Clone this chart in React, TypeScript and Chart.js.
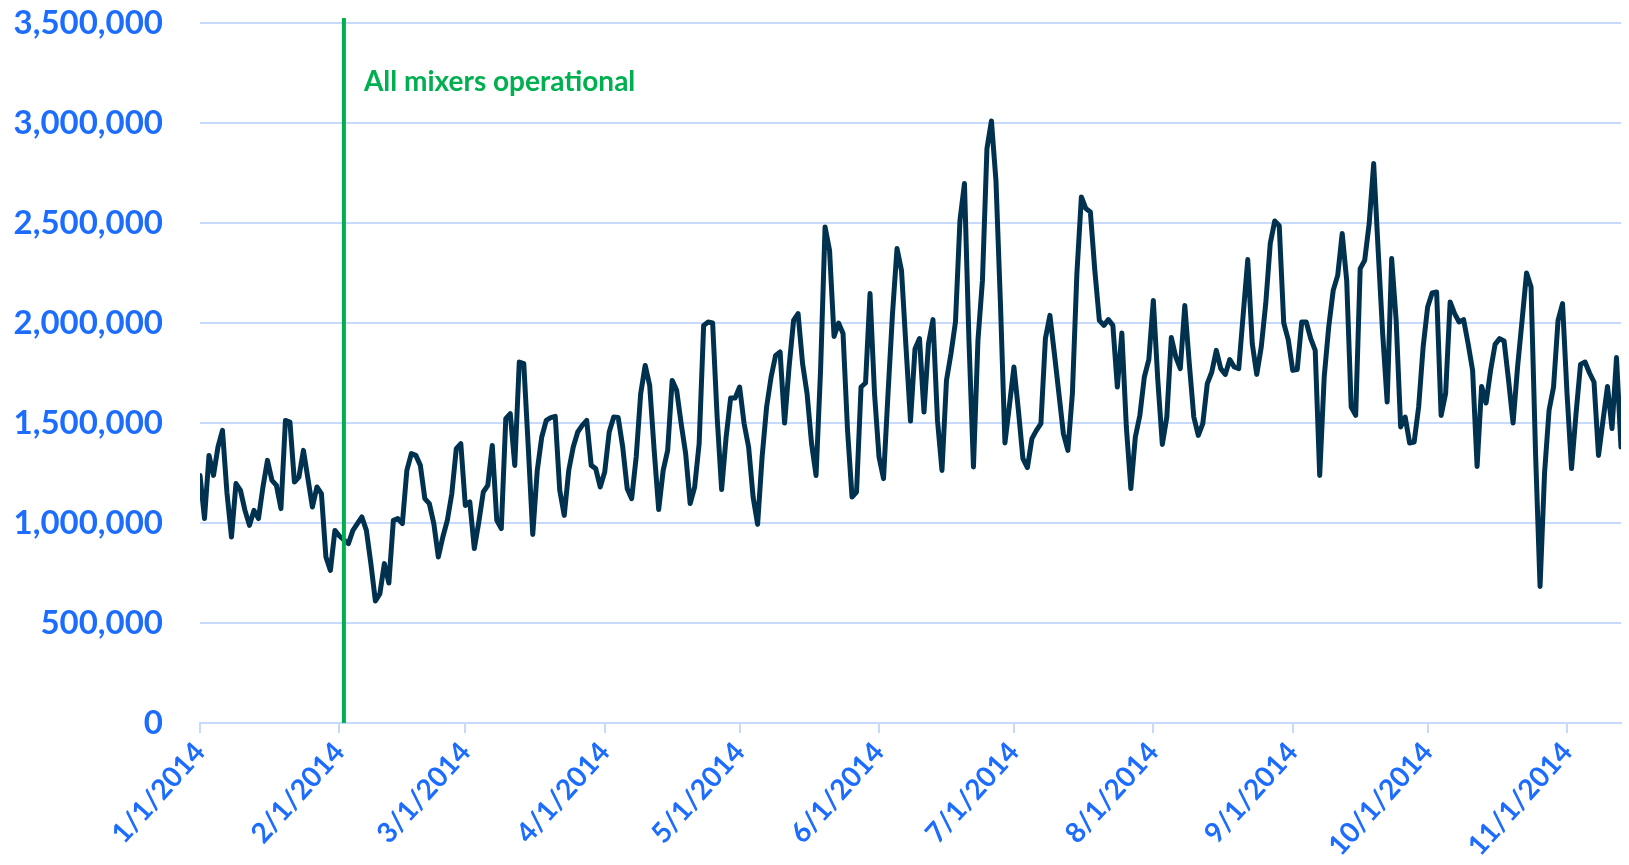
import React, { useEffect, useRef } from "react";
import { Chart, registerables } from "chart.js";

Chart.register(...registerables);

// Daily values starting 1/1/2014 (day index 0)
const startLabel = "1/1/2014";
const dailyValues: number[] = [
  1238000, 1022000, 1338000, 1238000, 1380000, 1463000, 1150000, 930000, 1197000, 1163000,
  1063000, 988000, 1063000, 1022000, 1180000, 1313000, 1213000, 1188000, 1072000, 1513000,
  1505000, 1205000, 1230000, 1363000, 1222000, 1080000, 1180000, 1147000, 830000, 763000,
  963000, 935000, 915000, 897000, 963000, 997000, 1030000, 963000, 797000, 610000,
  647000, 797000, 700000, 1013000, 1022000, 997000, 1263000, 1347000, 1338000, 1288000,
  1122000, 1097000, 997000, 830000, 930000, 1013000, 1147000, 1372000, 1397000, 1088000,
  1105000, 872000, 1005000, 1155000, 1188000, 1388000, 1013000, 972000, 1522000, 1547000,
  1288000, 1805000, 1797000, 1380000, 943000, 1263000, 1430000, 1513000, 1527000, 1533000,
  1163000, 1038000, 1263000, 1380000, 1455000, 1488000, 1513000, 1288000, 1272000, 1180000,
  1255000, 1455000, 1530000, 1527000, 1380000, 1172000, 1122000, 1330000, 1647000, 1788000,
  1688000, 1363000, 1067000, 1263000, 1363000, 1713000, 1663000, 1497000, 1347000, 1097000,
  1180000, 1397000, 1988000, 2005000, 2000000, 1530000, 1167000, 1430000, 1625000, 1625000,
  1680000, 1497000, 1380000, 1130000, 993000, 1330000, 1580000, 1730000, 1838000, 1855000,
  1500000, 1780000, 2013000, 2047000, 1797000, 1647000, 1397000, 1238000, 1763000, 2480000,
  2363000, 1933000, 2000000, 1947000, 1463000, 1130000, 1155000, 1680000, 1700000, 2147000,
  1647000, 1330000, 1222000, 1647000, 2047000, 2372000, 2263000, 1880000, 1510000, 1870000,
  1922000, 1555000, 1897000, 2017000, 1513000, 1263000, 1713000, 1847000, 2005000, 2513000,
  2697000, 1913000, 1280000, 1913000, 2213000, 2872000, 3010000, 2713000, 2100000, 1400000,
  1588000, 1780000, 1563000, 1322000, 1277000, 1422000, 1463000, 1497000, 1922000, 2038000,
  1847000, 1647000, 1447000, 1363000, 1647000, 2247000, 2630000, 2572000, 2555000, 2260000,
  2013000, 1988000, 2017000, 1988000, 1680000, 1950000, 1480000, 1172000, 1430000, 1538000,
  1730000, 1817000, 2113000, 1713000, 1393000, 1530000, 1927000, 1830000, 1772000, 2088000,
  1797000, 1530000, 1438000, 1497000, 1697000, 1755000, 1863000, 1772000, 1743000, 1817000,
  1780000, 1772000, 2047000, 2317000, 1897000, 1743000, 1880000, 2097000, 2397000, 2510000,
  2486000, 2000000, 1917000, 1763000, 1767000, 2005000, 2005000, 1922000, 1863000, 1238000,
  1730000, 1980000, 2163000, 2238000, 2447000, 2213000, 1580000, 1538000, 2272000, 2313000,
  2497000, 2797000, 2363000, 1947000, 1605000, 2322000, 2013000, 1480000, 1530000, 1400000,
  1405000, 1580000, 1880000, 2080000, 2150000, 2155000, 1538000, 1647000, 2105000, 2047000,
  2005000, 2017000, 1897000, 1763000, 1283000, 1683000, 1600000, 1763000, 1893000, 1922000,
  1910000, 1713000, 1500000, 1780000, 2013000, 2250000, 2180000, 1347000, 683000, 1250000,
  1563000, 1680000, 2013000, 2097000, 1647000, 1272000, 1547000, 1793000, 1805000, 1750000,
  1705000, 1338000, 1513000, 1683000, 1472000, 1827000, 1380000,
];

// Month-start tick positions (day index) and their labels
const monthStartDays: number[] = [0, 31, 59, 90, 120, 151, 181, 212, 243, 273, 304];
const monthTickLabels: string[] = [
  "1/1/2014", "2/1/2014", "3/1/2014", "4/1/2014", "5/1/2014", "6/1/2014",
  "7/1/2014", "8/1/2014", "9/1/2014", "10/1/2014", "11/1/2014",
];

// Annotation
const markerDay = 32;
const markerText = "All mixers operational";

const yMax = 3500000;
const yStep = 500000;

const BLUE = "#1c6cff";
const NAVY = "#00324f";
const GRID = "#c8dafc";
const GREEN = "#00b050";

export default function App() {
  const canvasRef = useRef<HTMLCanvasElement | null>(null);

  useEffect(() => {
    document.body.style.margin = "0";
    let chart: Chart | null = null;
    let cancelled = false;

    const markerPlugin = {
      id: "markerLine",
      afterDatasetsDraw(c: any) {
        const xs = c.scales.x;
        const area = c.chartArea;
        const x = xs.getPixelForValue(markerDay);
        const ctx = c.ctx;
        ctx.save();
        ctx.strokeStyle = GREEN;
        ctx.lineWidth = 4;
        ctx.beginPath();
        ctx.moveTo(x, area.top - 5);
        ctx.lineTo(x, area.bottom);
        ctx.stroke();
        ctx.fillStyle = GREEN;
        ctx.font = "bold 28px Lato";
        ctx.textAlign = "left";
        ctx.textBaseline = "alphabetic";
        ctx.fillText(markerText, x + 20, area.top + 68);
        ctx.restore();
      },
    };

    const build = () => {
      if (cancelled || !canvasRef.current) return;
      const points = dailyValues.map((v, i) => ({ x: i, y: v }));
      chart = new Chart(canvasRef.current, {
        type: "line",
        data: {
          datasets: [
            {
              label: startLabel,
              data: points,
              borderColor: NAVY,
              borderWidth: 5,
              pointRadius: 0,
              tension: 0,
              fill: false,
              borderJoinStyle: "round",
              borderCapStyle: "round",
            },
          ],
        },
        options: {
          animation: false,
          responsive: false,
          layout: { padding: { top: 23, right: 8, left: 0, bottom: 0 } },
          plugins: { legend: { display: false }, tooltip: { enabled: false } },
          scales: {
            x: {
              type: "linear",
              min: 0,
              max: dailyValues.length - 1,
              afterBuildTicks: (s: any) => {
                s.ticks = monthStartDays.map((v) => ({ value: v }));
              },
              afterFit: (s: any) => {
                s.height = 142;
              },
              ticks: {
                autoSkip: false,
                minRotation: 48,
                maxRotation: 48,
                color: BLUE,
                font: { family: "Lato", size: 28, weight: "bold" },
                padding: 3,
                labelOffset: 0,
                callback: (v: any) => {
                  const idx = monthStartDays.indexOf(Number(v));
                  return idx >= 0 ? monthTickLabels[idx] : "";
                },
              },
              grid: {
                drawOnChartArea: false,
                drawTicks: true,
                tickLength: 10,
                color: GRID,
                lineWidth: 2,
              },
              border: { display: true, color: GRID, width: 2 },
            },
            y: {
              min: 0,
              max: yMax,
              afterFit: (s: any) => {
                s.width = 200;
                s.paddingTop = 0;
                s.paddingBottom = 0;
              },
              ticks: {
                stepSize: yStep,
                color: BLUE,
                font: { family: "Lato", size: 33, weight: "bold" },
                padding: 37,
                callback: (v: any) => Number(v).toLocaleString("en-US"),
              },
              grid: { color: GRID, lineWidth: 2, drawTicks: false },
              border: { display: false },
            },
          },
        },
        plugins: [markerPlugin],
      } as any);
    };

    const fontsReady = (document as any).fonts
      ? Promise.all([
          (document as any).fonts.load("bold 33px Lato"),
          (document as any).fonts.load("bold 28px Lato"),
        ]).catch(() => null)
      : Promise.resolve(null);
    fontsReady.then(build);

    return () => {
      cancelled = true;
      if (chart) chart.destroy();
    };
  }, []);

  return (
    <div style={{ width: 1629, height: 865 }}>
      <canvas ref={canvasRef} width={1629} height={865} style={{ display: "block" }} />
    </div>
  );
}
